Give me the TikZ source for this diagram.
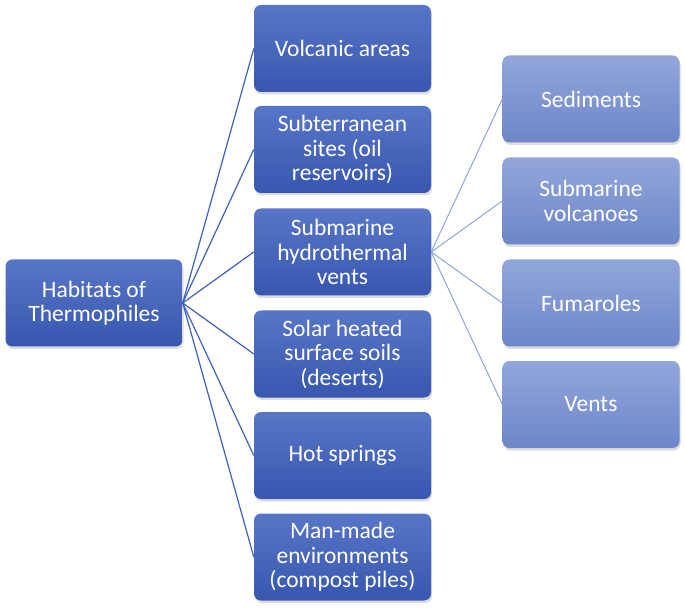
\documentclass[tikz,border=0pt]{standalone}
\usepackage{fontspec}
\setmainfont{Carlito}
\usepackage{tikz}
\usetikzlibrary{shadows}
\definecolor{hubtop}{RGB}{88,118,199}
\definecolor{hubbot}{RGB}{55,87,176}
\definecolor{leaftop}{RGB}{146,166,218}
\definecolor{leafbot}{RGB}{108,134,201}
\definecolor{linkdark}{RGB}{60,96,188}
\definecolor{linklight}{RGB}{142,164,219}

\begin{document}
\begin{tikzpicture}[
    x=1pt,y=-1pt,
    box/.style={rectangle,rounded corners=7pt,minimum width=177pt,minimum height=87pt,
      inner sep=2pt,align=center,text=white,font=\fontsize{23.5}{24.5}\selectfont,
      drop shadow={opacity=.28,shadow xshift=1pt,shadow yshift=-2.5pt}},
    hub/.style={box,top color=hubtop,bottom color=hubbot},
    leaf/.style={box,top color=leaftop,bottom color=leafbot},
    link/.style={line width=1.2pt,linkdark},
    sublink/.style={line width=1pt,linklight}
  ]
    \useasboundingbox (0,0) rectangle (685,609);
    \node[hub] (root) at (94,303) {Habitats of\\Thermophiles};
    \node[hub] (volc) at (342.5,48.5) {Volcanic areas};
    \node[hub] (subt) at (342.5,149.5) {Subterranean\\sites (oil\\reservoirs)};
    \node[hub] (hydro) at (342.5,252) {Submarine\\hydrothermal\\vents};
    \node[hub] (solar) at (342.5,354) {Solar heated\\surface soils\\(deserts)};
    \node[hub] (hot) at (342.5,455.5) {Hot springs};
    \node[hub] (man) at (342.5,557) {Man-made\\environments\\(compost piles)};
    \node[leaf] (sed) at (591,99) {Sediments};
    \node[leaf] (svolc) at (591,201) {Submarine\\volcanoes};
    \node[leaf] (fum) at (591,303) {Fumaroles};
    \node[leaf] (vent) at (591,404.5) {Vents};
    \foreach \t in {volc,subt,hydro,solar,hot,man}
      \draw[link] (root.east)--(\t.west);
    \foreach \t in {sed,svolc,fum,vent}
      \draw[sublink] (hydro.east)--(\t.west);
  \end{tikzpicture}
\end{document}
